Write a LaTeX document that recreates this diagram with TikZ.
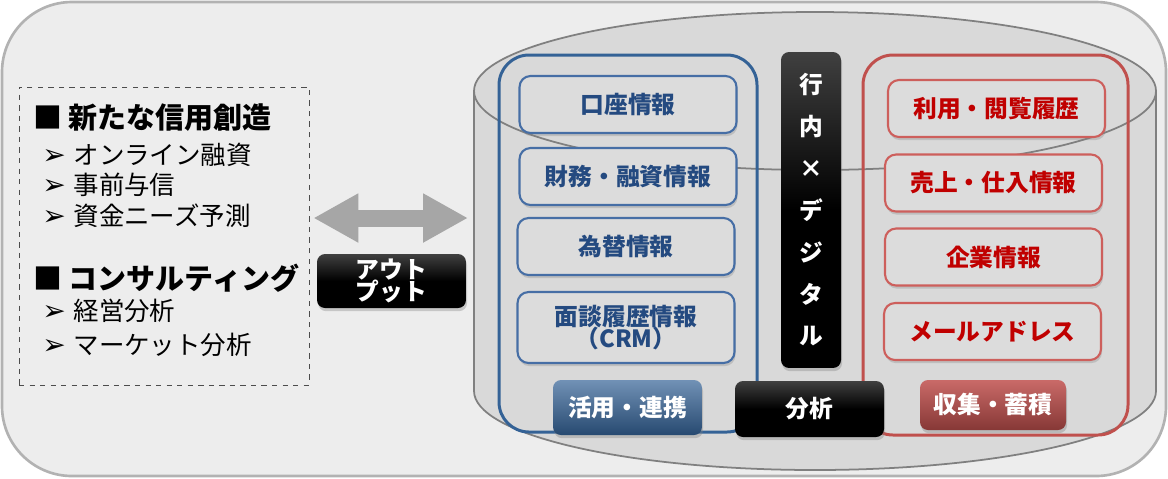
\documentclass[tikz,border=0pt]{standalone}
\usepackage{fontspec}
\setmainfont{Noto Sans CJK JP}
\newfontfamily\symfont{DejaVu Sans}
\usepackage{tikz}
\usetikzlibrary{arrows.meta,positioning,shadows}
\definecolor{bggray}{RGB}{237,237,237}
\definecolor{cylgray}{RGB}{217,217,217}
\definecolor{cylline}{RGB}{128,128,128}
\definecolor{boxgray}{RGB}{220,220,220}
\definecolor{frameblue}{RGB}{52,98,150}
\definecolor{boxblue}{RGB}{70,110,165}
\definecolor{txtblue}{RGB}{36,74,128}
\definecolor{framered}{RGB}{192,80,77}
\definecolor{boxred}{RGB}{205,95,92}
\definecolor{txtred}{RGB}{192,0,0}
\definecolor{arrowgray}{RGB}{166,166,166}
\newcommand{\bul}{{\symfont\fontsize{16}{16}\selectfont\char"27A2}\hspace{0.3em}}
\tikzset{
  infobox/.style={
    draw,rounded corners=0.22cm,line width=1.2pt,fill=boxgray,align=center,
    minimum width=4.34cm,minimum height=1.14cm,inner sep=2pt,
    font=\bfseries\fontsize{13.5}{16}\selectfont,
    drop shadow={opacity=0.3,shadow xshift=0.6pt,shadow yshift=-1.8pt}
  },
  bluebox/.style={infobox,draw=boxblue,text=txtblue},
  redbox/.style={infobox,draw=boxred,text=txtred},
  btnbase/.style={
    rounded corners=0.16cm,align=center,minimum width=2.98cm,minimum height=1.1cm,
    inner sep=2pt,text=white,font=\bfseries\fontsize{13.5}{16}\selectfont,
    drop shadow={opacity=0.35,shadow xshift=0.6pt,shadow yshift=-1.8pt}
  },
  blackbtn/.style={btnbase,top color=black!75,bottom color=black,middle color=black},
  bluebtn/.style={btnbase,top color=frameblue!70!white,bottom color=frameblue!75!black},
  redbtn/.style={btnbase,top color=framered!85,bottom color=framered!70!black},
  listhead/.style={anchor=west,inner sep=0pt,font=\bfseries\fontsize{16.5}{19}\selectfont},
  listitem/.style={anchor=west,inner sep=0pt,font=\fontsize{14.5}{17}\selectfont},
  blueframe/.style={draw=frameblue,line width=1.7pt,rounded corners=0.6cm},
  redframe/.style={draw=framered,line width=1.7pt,rounded corners=0.6cm},
  bigarrow/.style={draw=arrowgray,line width=0.34cm,
    {Triangle[length=0.9cm,width=0.92cm]}-{Triangle[length=0.9cm,width=0.92cm]}}
}

\begin{document}
\begin{tikzpicture}[x=0.02cm,y=-0.02cm]
  \useasboundingbox (0,0) rectangle (1168,478);
  % background panel
  \draw[fill=bggray,draw=black!30,line width=1.5pt,rounded corners=1.4cm] (2,2) rectangle (1166,476);

  % output list
  \node[draw=black!70,dashed,line width=0.5pt,minimum width=5.8cm,minimum height=5.96cm]
    (outlist) at (164,236) {};
  \node[listhead] (credit) at (33,118) {■ 新たな信用創造};
  \node[listitem] (online) at (42,155) {\bul オンライン融資};
  \node[listitem] (prior) at (42,185) {\bul 事前与信};
  \node[listitem] (needs) at (42,216) {\bul 資金ニーズ予測};
  \node[listhead] (consult) at (33,278) {■ コンサルティング};
  \node[listitem] (mgmt) at (42,311) {\bul 経営分析};
  \node[listitem] (market) at (42,345) {\bul マーケット分析};

  % database cylinder
  \fill[cylgray] (474,91) -- (474,391) arc[start angle=180,end angle=0,x radius=341,y radius=79]
    -- (1156,91) -- cycle;
  \draw[cylline,line width=1pt] (474,91) -- (474,391) arc[start angle=180,end angle=0,x radius=341,y radius=79]
    -- (1156,91);
  \draw[cylline,line width=1pt,fill=cylgray] (815,91) ellipse[x radius=341,y radius=79];
  \coordinate (cylW) at (474,218);

  \node[blackbtn,minimum width=2.98cm,minimum height=1.08cm] (output) at (391.5,281) {アウト\\[-3pt]プット};
  \draw[bigarrow] ([xshift=0.08cm]outlist.east |- cylW) -- ([xshift=-0.12cm]cylW);

  % in-house data
  \draw[blueframe] (499,55) rectangle (757,432);
  \node[bluebox] (account) at (628,104.5) {口座情報};
  \node[bluebox] (finance) at (628,176.5) {財務・融資情報};
  \node[bluebox] (forex) at (626,246.5) {為替情報};
  \node[bluebox,minimum height=1.42cm] (crm) at (626,327.5) {面談履歴情報\\[-3pt]（CRM）};
  \node[bluebtn] (use) at (627.5,407.5) {活用・連携};

  % external data
  \draw[redframe] (863,55) rectangle (1128,435);
  \node[redbox] (history) at (996.5,108.5) {利用・閲覧履歴};
  \node[redbox] (sales) at (993.5,183) {売上・仕入情報};
  \node[redbox] (company) at (993.5,257) {企業情報};
  \node[redbox] (mail) at (992.5,331.5) {メールアドレス};
  \node[redbtn,minimum width=2.92cm,minimum height=1cm] (collect) at (993,405) {収集・蓄積};

  % analysis
  \node[blackbtn,minimum width=1.2cm,minimum height=6.32cm,
    font=\bfseries\fontsize{13.5}{23.8}\selectfont] (digital) at (811,210)
    {行\\内\\×\\デ\\ジ\\タ\\ル};
  \node[blackbtn,minimum height=1.12cm] (analysis) at (809.5,409) {分析};
\end{tikzpicture}
\end{document}
